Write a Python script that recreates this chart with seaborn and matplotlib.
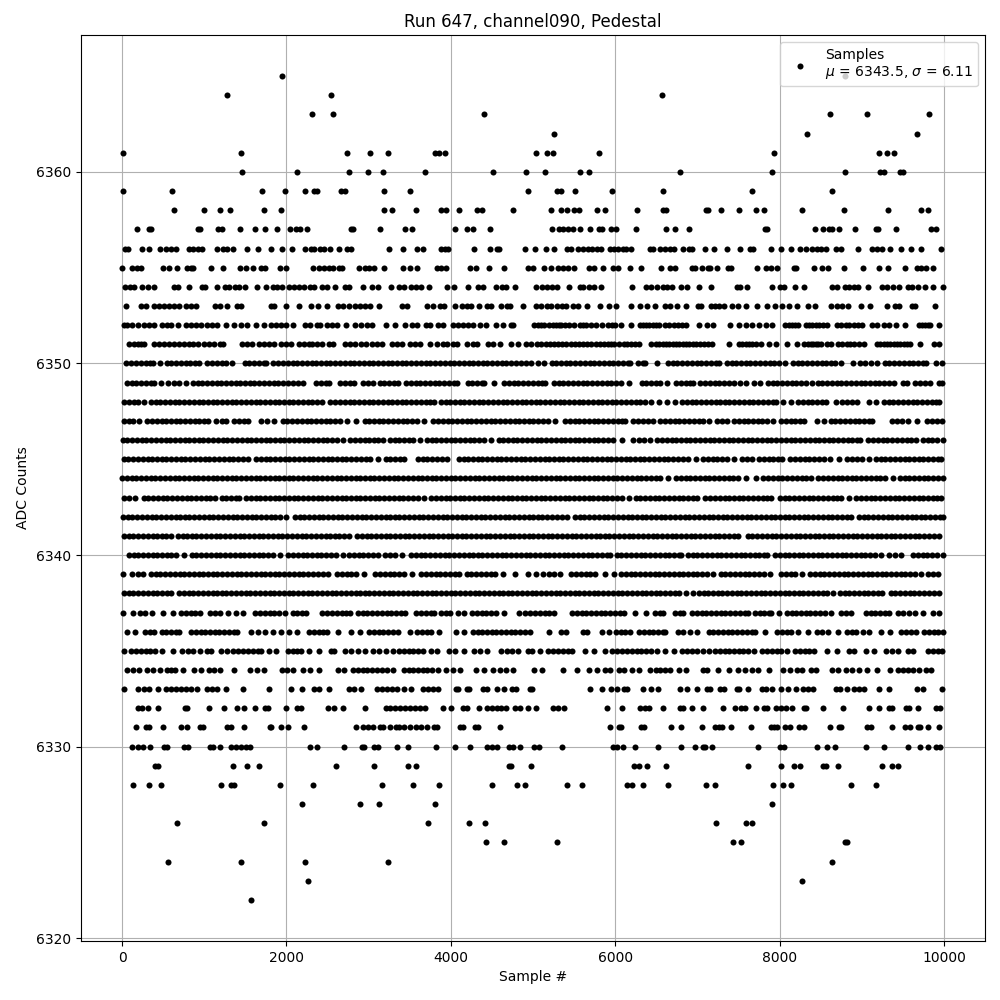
import matplotlib
matplotlib.use("Agg")
import matplotlib.pyplot as plt
import pandas as pd
import seaborn as sns

adc_6365 = [1944, 8790]
adc_6364 = [1277, 2539, 6566]
adc_6363 = [2308, 2563, 4407, 8616, 9065, 9817]
adc_6362 = [5256, 8337, 9671]
adc_6361 = [16, 1447, 2733, 3012, 3230, 3812, 3853, 3934, 5038, 5171, 5244, 5802, 7937, 9210, 9307, 9392]
adc_6360 = [1459, 2126, 2757, 2987, 3170, 3691, 4516, 4916, 5147, 5571, 5681, 6784, 7912, 8798, 9226, 9271, 9469, 9497]
adc_6359 = [16, 610, 1702, 1981, 2223, 2337, 2377, 2668, 2717, 3182, 3509, 4940, 5293, 5341, 5511, 5960, 6578, 7658, 8640]
adc_6358 = [634, 998, 1192, 1314, 1726, 1932, 3182, 3279, 3570, 3885, 3946, 4103, 4318, 4374, 4758, 5216, 5341, 5414, 5499, 5559, 5778, 5875, 6263, 6578, 6615, 7100, 7124, 7282, 7500, 7718, 7815, 8276, 8786, 9319, 9720, 9804]
adc_6357 = [186, 331, 351, 926, 950, 1168, 1221, 1435, 1617, 1742, 1884, 2041, 2114, 2163, 2248, 2781, 2810, 3133, 3448, 3533, 4055, 4200, 4273, 4479, 5232, 5317, 5365, 5426, 5487, 5567, 5689, 5798, 5838, 5948, 6012, 6251, 6615, 6724, 6894, 7819, 7844, 8434, 8531, 8600, 8640, 8725, 8919, 9174, 9198, 9416, 9841, 9902]
adc_6356 = [36, 68, 246, 331, 465, 537, 594, 655, 816, 865, 926, 974, 1156, 1229, 1277, 1350, 1520, 1653, 1811, 1948, 2066, 2223, 2296, 2333, 2405, 2454, 2527, 2636, 2733, 2781, 3242, 3412, 3594, 3659, 3885, 3934, 3970, 4285, 4479, 4564, 4588, 4904, 5022, 5163, 5256, 5414, 5462, 5547, 5608, 5669, 5721, 5778, 5830, 5935, 5984, 6032, 6093, 6133, 6190, 6420, 6457, 6542, 6602, 6671, 6712, 6821, 6894, 6934, 7088, 7197, 7354, 7524, 7641, 7682, 7900, 8021, 8143, 8252, 8325, 8398, 8458, 8507, 8567, 8689, 8749, 8955, 9125, 9186, 9247, 9344, 9481, 9598, 9720, 9962]
adc_6355 = [4, 125, 186, 234, 501, 574, 671, 792, 841, 865, 1083, 1229, 1435, 1508, 1597, 1690, 1738, 1920, 1993, 2320, 2393, 2454, 2515, 2563, 2636, 2672, 2878, 2951, 2999, 3060, 3182, 3412, 3509, 3594, 3837, 3885, 3946, 4237, 4309, 4467, 4649, 4940, 5001, 5135, 5224, 5305, 5365, 5426, 5499, 5681, 5741, 5850, 5972, 6032, 6178, 6311, 6554, 6663, 6724, 6930, 6970, 7051, 7124, 7152, 7233, 7367, 7403, 7730, 7840, 7892, 7965, 8179, 8203, 8422, 8519, 8592, 8786, 9012, 9210, 9323, 9525, 9671, 9720, 9780, 9865]
adc_6354 = [36, 101, 149, 246, 311, 392, 626, 683, 812, 978, 1006, 1152, 1249, 1302, 1374, 1423, 1492, 1641, 1754, 1835, 1888, 1948, 2033, 2090, 2151, 2211, 2284, 2333, 2438, 2494, 2595, 2717, 2757, 2927, 3036, 3109, 3267, 3364, 3432, 3517, 3578, 3642, 3739, 3958, 4039, 4213, 4334, 4395, 4544, 4617, 4669, 4783, 5038, 5111, 5171, 5232, 5293, 5438, 5571, 5608, 5681, 5741, 5830, 6202, 6372, 6433, 6505, 6578, 6627, 6687, 6796, 6869, 7015, 7160, 7476, 7524, 7609, 7912, 8009, 8058, 8191, 8300, 8640, 8701, 8798, 8846, 8907, 8955, 9081, 9247, 9307, 9380, 9453, 9562, 9610, 9683, 9772, 9865, 9986]
adc_6353 = [52, 230, 291, 392, 453, 513, 574, 634, 695, 776, 837, 897, 1128, 1192, 1277, 1395, 1443, 1807, 1847, 1989, 2151, 2296, 2381, 2498, 2624, 2688, 2757, 2838, 2891, 2959, 3020, 3121, 3400, 3465, 3707, 3788, 3869, 3918, 4055, 4132, 4192, 4241, 4346, 4435, 4483, 4613, 4686, 4718, 4880, 5038, 5102, 5171, 5224, 5293, 5353, 5406, 5487, 5547, 5656, 5814, 5923, 6008, 6190, 6299, 6384, 6481, 6602, 6663, 6748, 6857, 7003, 7043, 7164, 7217, 7265, 7326, 7415, 7488, 7585, 7730, 7852, 7941, 8034, 8114, 8216, 8349, 8434, 8628, 8701, 8762, 8830, 8992, 9101, 9307, 9400, 9457, 9610, 9642, 9889]
adc_6352 = [20, 60, 125, 190, 271, 331, 392, 481, 541, 594, 675, 780, 837, 897, 958, 1039, 1099, 1160, 1261, 1362, 1451, 1516, 1629, 1726, 1807, 1868, 1928, 1993, 2082, 2223, 2284, 2373, 2413, 2494, 2555, 2616, 2729, 2838, 2911, 2979, 3040, 3214, 3315, 3448, 3525, 3586, 3695, 3748, 3849, 3909, 4030, 4091, 4152, 4213, 4273, 4354, 4427, 4544, 4637, 4726, 4758, 5014, 5062, 5100, 5131, 5191, 5240, 5284, 5315, 5345, 5390, 5438, 5500, 5567, 5605, 5648, 5710, 5770, 5840, 5915, 5955, 5996, 6073, 6190, 6303, 6340, 6376, 6415, 6457, 6500, 6538, 6600, 6659, 6710, 6760, 6810, 6861, 7023, 7112, 7185, 7391, 7508, 7589, 7670, 7751, 7840, 7912, 8066, 8110, 8155, 8190, 8228, 8325, 8360, 8398, 8438, 8478, 8530, 8579, 8701, 8750, 8802, 8850, 8903, 8950, 9004, 9125, 9186, 9267, 9328, 9416, 9529, 9699, 9735, 9772, 9800, 9833, 9934]
adc_6351 = [89, 149, 198, 235, 271, 392, 453, 513, 574, 634, 695, 756, 816, 857, 926, 998, 1059, 1120, 1192, 1233, 1463, 1524, 1585, 1665, 1726, 1787, 1847, 1928, 1989, 2050, 2151, 2211, 2272, 2312, 2373, 2434, 2515, 2563, 2717, 2777, 2838, 2907, 2971, 3040, 3101, 3161, 3283, 3343, 3404, 3497, 3566, 3626, 3748, 3829, 3909, 3950, 4031, 4079, 4192, 4265, 4314, 4455, 4516, 4597, 4730, 4819, 4920, 4981, 5050, 5102, 5153, 5204, 5255, 5305, 5355, 5406, 5456, 5507, 5557, 5608, 5658, 5709, 5760, 5810, 5860, 5911, 5945, 5980, 6050, 6101, 6148, 6194, 6240, 6287, 6437, 6490, 6538, 6580, 6619, 6660, 6700, 6740, 6780, 6820, 6861, 6900, 6942, 6985, 7031, 7078, 7124, 7177, 7379, 7500, 7545, 7589, 7630, 7670, 7718, 7779, 7872, 7957, 8086, 8216, 8296, 8340, 8377, 8408, 8438, 8468, 8499, 8579, 8620, 8709, 8765, 8822, 8860, 8903, 8965, 9024, 9186, 9227, 9267, 9308, 9348, 9390, 9429, 9470, 9509, 9550, 9590, 9711, 9873, 9934]
adc_6350 = [52, 110, 170, 225, 285, 340, 380, 465, 545, 600, 660, 715, 775, 830, 890, 934, 1038, 1095, 1150, 1210, 1270, 1342, 1491, 1550, 1610, 1665, 1725, 1755, 1840, 1900, 1960, 2015, 2075, 2130, 2190, 2250, 2305, 2365, 2420, 2480, 2535, 2595, 2650, 2710, 2770, 2825, 2885, 2940, 3000, 3055, 3115, 3175, 3230, 3290, 3345, 3405, 3460, 3520, 3580, 3635, 3695, 3750, 3810, 3865, 3925, 3985, 4040, 4100, 4155, 4215, 4270, 4330, 4390, 4445, 4505, 4560, 4620, 4675, 4735, 4795, 4850, 4910, 4970, 5066, 5130, 5227, 5285, 5340, 5400, 5455, 5515, 5570, 5630, 5690, 5745, 5805, 5860, 5920, 5975, 6035, 6095, 6150, 6182, 6280, 6340, 6364, 6505, 6642, 6700, 6755, 6815, 6870, 6930, 6990, 7045, 7105, 7160, 7220, 7266, 7358, 7415, 7475, 7530, 7590, 7645, 7705, 7765, 7820, 7880, 7935, 7995, 8062, 8160, 8220, 8275, 8335, 8390, 8450, 8510, 8565, 8625, 8680, 8750, 8891, 8975, 9040, 9113, 9186, 9279, 9335, 9395, 9450, 9510, 9570, 9625, 9685, 9740, 9781, 9897, 9975]
adc_6349 = [60, 118, 175, 235, 290, 350, 392, 473, 554, 634, 695, 772, 861, 920, 975, 1035, 1090, 1150, 1205, 1265, 1325, 1380, 1440, 1495, 1555, 1610, 1670, 1730, 1785, 1845, 1900, 1960, 2015, 2075, 2135, 2199, 2365, 2420, 2480, 2523, 2656, 2715, 2775, 2818, 2931, 2990, 3048, 3133, 3190, 3250, 3305, 3359, 3456, 3515, 3570, 3630, 3690, 3745, 3805, 3860, 3920, 3975, 4035, 4079, 4204, 4260, 4320, 4375, 4403, 4528, 4649, 4705, 4765, 4820, 4880, 4940, 5000, 5055, 5115, 5151, 5256, 5315, 5370, 5430, 5490, 5545, 5605, 5660, 5720, 5775, 5835, 5895, 5950, 6010, 6069, 6166, 6320, 6380, 6435, 6495, 6550, 6635, 6740, 6800, 6860, 6915, 6950, 7035, 7095, 7150, 7210, 7265, 7325, 7385, 7440, 7516, 7597, 7694, 7759, 7856, 7915, 7970, 8030, 8090, 8145, 8205, 8260, 8317, 8389, 8462, 8520, 8580, 8635, 8695, 8750, 8810, 8870, 8925, 8985, 9040, 9100, 9160, 9215, 9275, 9330, 9396, 9501, 9546, 9651, 9710, 9770, 9829, 9934, 9974]
adc_6348 = [28, 85, 145, 198, 271, 351, 410, 465, 525, 580, 640, 695, 755, 815, 870, 930, 985, 1045, 1100, 1160, 1220, 1275, 1335, 1390, 1450, 1505, 1565, 1625, 1680, 1740, 1795, 1855, 1910, 1970, 2030, 2085, 2145, 2200, 2260, 2315, 2375, 2438, 2535, 2595, 2650, 2710, 2770, 2825, 2885, 2940, 3000, 3055, 3115, 3175, 3230, 3290, 3345, 3405, 3460, 3520, 3580, 3635, 3695, 3750, 3796, 3877, 3935, 3990, 4050, 4110, 4165, 4225, 4280, 4340, 4395, 4455, 4515, 4570, 4630, 4685, 4745, 4800, 4860, 4920, 4975, 5035, 5090, 5150, 5205, 5265, 5325, 5380, 5440, 5495, 5555, 5610, 5670, 5730, 5785, 5845, 5900, 5960, 6015, 6075, 6135, 6190, 6250, 6305, 6365, 6433, 6538, 6631, 6728, 6813, 6870, 6930, 6985, 7045, 7105, 7160, 7220, 7275, 7335, 7390, 7450, 7510, 7565, 7625, 7680, 7740, 7795, 7855, 7915, 7961, 8046, 8143, 8228, 8285, 8345, 8400, 8460, 8520, 8567, 8681, 8761, 8820, 8880, 8939, 9093, 9174, 9271, 9330, 9385, 9445, 9500, 9560, 9620, 9675, 9735, 9790, 9850, 9905, 9934]
adc_6347 = [20, 80, 135, 206, 303, 360, 420, 480, 535, 595, 650, 710, 770, 825, 885, 940, 1000, 1047, 1144, 1210, 1269, 1362, 1420, 1480, 1532, 1686, 1765, 1847, 1953, 2010, 2070, 2125, 2185, 2245, 2300, 2360, 2415, 2475, 2530, 2590, 2650, 2733, 2842, 2951, 3010, 3065, 3125, 3180, 3240, 3300, 3355, 3415, 3470, 3530, 3590, 3675, 3788, 3845, 3905, 3960, 4020, 4080, 4135, 4195, 4250, 4310, 4370, 4425, 4485, 4540, 4600, 4655, 4715, 4775, 4830, 4890, 4945, 5005, 5065, 5120, 5180, 5272, 5390, 5450, 5505, 5565, 5620, 5680, 5740, 5795, 5855, 5910, 5970, 6030, 6085, 6121, 6218, 6280, 6340, 6400, 6457, 6550, 6610, 6665, 6725, 6780, 6840, 6900, 6955, 7015, 7070, 7144, 7237, 7300, 7362, 7447, 7505, 7565, 7620, 7680, 7735, 7791, 7852, 7925, 8017, 8075, 8135, 8190, 8250, 8296, 8450, 8539, 8624, 8680, 8740, 8800, 8855, 8915, 8970, 9030, 9085, 9125, 9368, 9430, 9490, 9558, 9667, 9796, 9855, 9915, 9974]
adc_6346 = [8, 65, 125, 180, 240, 295, 355, 415, 470, 530, 585, 645, 700, 760, 820, 875, 935, 990, 1050, 1110, 1165, 1225, 1280, 1340, 1395, 1455, 1515, 1570, 1630, 1685, 1745, 1800, 1860, 1920, 1975, 2035, 2090, 2150, 2210, 2265, 2325, 2380, 2440, 2495, 2555, 2615, 2684, 2777, 2835, 2890, 2950, 3010, 3065, 3109, 3174, 3254, 3315, 3370, 3430, 3490, 3545, 3626, 3707, 3765, 3825, 3880, 3940, 4000, 4055, 4115, 4170, 4230, 4285, 4345, 4405, 4483, 4580, 4640, 4695, 4755, 4810, 4870, 4930, 4985, 5045, 5100, 5160, 5215, 5275, 5335, 5390, 5450, 5505, 5565, 5625, 5680, 5740, 5795, 5855, 5915, 5972, 6077, 6218, 6290, 6344, 6420, 6509, 6570, 6625, 6685, 6740, 6800, 6860, 6915, 6975, 7030, 7090, 7150, 7205, 7265, 7320, 7380, 7435, 7495, 7555, 7610, 7670, 7725, 7785, 7845, 7900, 7960, 8015, 8075, 8135, 8190, 8250, 8305, 8365, 8425, 8480, 8540, 8595, 8655, 8710, 8770, 8830, 8885, 8945, 8984, 9077, 9135, 9195, 9255, 9310, 9370, 9425, 9485, 9545, 9600, 9659, 9744, 9805, 9860, 9920, 9982]
adc_6345 = [20, 75, 135, 195, 250, 310, 365, 425, 480, 540, 600, 655, 715, 770, 830, 890, 945, 1005, 1060, 1120, 1180, 1235, 1295, 1350, 1410, 1470, 1532, 1629, 1690, 1745, 1805, 1860, 1920, 1980, 2035, 2095, 2150, 2210, 2270, 2325, 2385, 2440, 2500, 2555, 2615, 2675, 2730, 2790, 2845, 2905, 2965, 3020, 3109, 3206, 3265, 3325, 3380, 3424, 3598, 3660, 3715, 3775, 3835, 3890, 3958, 4095, 4155, 4210, 4270, 4325, 4385, 4445, 4500, 4560, 4615, 4675, 4735, 4790, 4850, 4905, 4965, 5025, 5080, 5140, 5195, 5255, 5315, 5370, 5430, 5485, 5545, 5605, 5660, 5720, 5775, 5835, 5895, 5950, 6010, 6065, 6125, 6185, 6240, 6300, 6355, 6415, 6475, 6530, 6590, 6645, 6705, 6765, 6820, 6880, 6978, 7067, 7125, 7185, 7240, 7300, 7360, 7443, 7540, 7600, 7670, 7751, 7810, 7870, 7925, 7985, 8034, 8127, 8185, 8245, 8305, 8360, 8420, 8480, 8535, 8616, 8717, 8826, 8885, 8945, 9000, 9093, 9170, 9230, 9285, 9345, 9405, 9460, 9520, 9575, 9635, 9695, 9750, 9810, 9865, 9925, 9962]
adc_6344 = [0, 60, 115, 175, 230, 290, 350, 405, 465, 520, 580, 640, 695, 755, 810, 870, 925, 985, 1045, 1100, 1160, 1215, 1275, 1335, 1390, 1450, 1505, 1565, 1625, 1680, 1740, 1795, 1855, 1915, 1970, 2030, 2085, 2145, 2200, 2260, 2320, 2375, 2435, 2490, 2550, 2610, 2665, 2725, 2780, 2840, 2900, 2955, 3015, 3070, 3130, 3190, 3245, 3305, 3360, 3420, 3475, 3535, 3595, 3650, 3710, 3765, 3825, 3885, 3940, 4000, 4055, 4115, 4175, 4230, 4290, 4345, 4405, 4465, 4520, 4580, 4635, 4695, 4750, 4810, 4870, 4925, 4985, 5040, 5100, 5160, 5215, 5275, 5330, 5390, 5450, 5505, 5565, 5620, 5680, 5740, 5795, 5855, 5910, 5970, 6025, 6085, 6145, 6200, 6260, 6315, 6375, 6435, 6490, 6550, 6647, 6740, 6800, 6855, 6915, 6975, 7030, 7090, 7145, 7205, 7265, 7320, 7380, 7435, 7495, 7597, 7710, 7803, 7860, 7920, 7980, 8035, 8095, 8150, 8210, 8270, 8325, 8385, 8470, 8530, 8590, 8645, 8705, 8760, 8820, 8880, 8935, 8995, 9050, 9110, 9170, 9225, 9285, 9376, 9461, 9520, 9580, 9635, 9695, 9755, 9810, 9870, 9925, 9982]
adc_6343 = [20, 80, 157, 263, 320, 380, 435, 495, 550, 610, 670, 725, 785, 840, 900, 960, 1015, 1075, 1128, 1213, 1270, 1330, 1385, 1419, 1508, 1565, 1625, 1680, 1740, 1800, 1855, 1915, 1970, 2030, 2090, 2145, 2205, 2260, 2320, 2380, 2435, 2495, 2550, 2610, 2670, 2725, 2785, 2840, 2900, 2960, 3015, 3075, 3130, 3190, 3250, 3305, 3365, 3420, 3480, 3540, 3595, 3675, 3760, 3820, 3875, 3935, 3990, 4050, 4110, 4165, 4225, 4280, 4340, 4400, 4455, 4515, 4570, 4630, 4690, 4745, 4805, 4860, 4920, 4980, 5035, 5095, 5150, 5210, 5270, 5325, 5385, 5440, 5500, 5560, 5615, 5675, 5730, 5790, 5850, 5905, 5965, 6020, 6080, 6162, 6247, 6305, 6365, 6420, 6480, 6535, 6595, 6655, 6710, 6770, 6825, 6885, 6945, 7000, 7096, 7155, 7215, 7270, 7330, 7385, 7445, 7505, 7560, 7620, 7680, 7735, 7795, 7850, 7900, 8005, 8065, 8120, 8180, 8235, 8295, 8355, 8410, 8470, 8525, 8585, 8645, 8700, 8749, 8846, 8935, 8995, 9050, 9110, 9165, 9225, 9285, 9340, 9400, 9455, 9515, 9575, 9630, 9690, 9745, 9805, 9865, 9920, 9962]
adc_6342 = [12, 70, 125, 185, 240, 300, 360, 415, 475, 530, 590, 650, 705, 765, 820, 880, 940, 995, 1055, 1110, 1170, 1230, 1285, 1345, 1400, 1460, 1520, 1575, 1635, 1690, 1750, 1810, 1865, 1925, 1997, 2102, 2160, 2215, 2275, 2335, 2390, 2450, 2505, 2565, 2625, 2680, 2740, 2795, 2855, 2915, 2970, 3030, 3085, 3145, 3205, 3260, 3320, 3375, 3435, 3495, 3550, 3610, 3665, 3725, 3785, 3840, 3900, 3955, 4015, 4075, 4130, 4190, 4245, 4305, 4365, 4420, 4480, 4535, 4595, 4655, 4710, 4770, 4825, 4885, 4945, 5000, 5060, 5115, 5175, 5235, 5290, 5350, 5414, 5511, 5570, 5625, 5685, 5740, 5800, 5860, 5915, 5975, 6030, 6090, 6150, 6205, 6265, 6320, 6380, 6440, 6495, 6555, 6610, 6670, 6730, 6785, 6845, 6900, 6960, 7020, 7075, 7135, 7190, 7250, 7310, 7365, 7425, 7480, 7540, 7600, 7655, 7715, 7770, 7830, 7890, 7945, 8005, 8060, 8120, 8180, 8235, 8295, 8350, 8410, 8470, 8525, 8585, 8640, 8700, 8760, 8815, 8871, 8964, 9025, 9080, 9140, 9195, 9255, 9315, 9370, 9430, 9485, 9545, 9605, 9660, 9720, 9775, 9835, 9895, 9950, 9982]
adc_6341 = [20, 80, 135, 195, 250, 310, 370, 425, 485, 540, 594, 675, 735, 790, 850, 905, 965, 1025, 1080, 1140, 1195, 1255, 1315, 1370, 1430, 1485, 1545, 1605, 1660, 1720, 1775, 1835, 1895, 1950, 2010, 2065, 2125, 2185, 2240, 2300, 2355, 2415, 2475, 2530, 2590, 2645, 2705, 2765, 2858, 2915, 2975, 3030, 3090, 3150, 3205, 3265, 3320, 3380, 3440, 3495, 3555, 3610, 3670, 3730, 3785, 3845, 3900, 3960, 4020, 4075, 4135, 4190, 4250, 4310, 4365, 4425, 4480, 4540, 4600, 4655, 4715, 4770, 4830, 4890, 4945, 5005, 5060, 5120, 5180, 5235, 5295, 5350, 5410, 5470, 5525, 5585, 5640, 5700, 5760, 5815, 5875, 5930, 5990, 6050, 6105, 6165, 6220, 6280, 6340, 6395, 6455, 6510, 6570, 6630, 6685, 6745, 6800, 6860, 6920, 6975, 7035, 7090, 7150, 7210, 7265, 7325, 7380, 7440, 7496, 7613, 7670, 7730, 7785, 7845, 7905, 7960, 8020, 8075, 8135, 8195, 8250, 8310, 8365, 8425, 8485, 8540, 8600, 8655, 8715, 8775, 8830, 8890, 8945, 9005, 9065, 9120, 9180, 9235, 9295, 9355, 9410, 9470, 9525, 9585, 9645, 9700, 9760, 9815, 9875, 9934]
adc_6340 = [81, 140, 195, 255, 310, 370, 430, 485, 545, 600, 651, 756, 849, 905, 965, 1020, 1080, 1140, 1195, 1255, 1310, 1370, 1430, 1485, 1545, 1600, 1660, 1720, 1775, 1835, 1916, 2021, 2080, 2135, 2195, 2250, 2310, 2370, 2425, 2485, 2540, 2600, 2684, 2761, 2820, 2880, 2935, 2995, 3050, 3109, 3202, 3260, 3320, 3400, 3517, 3575, 3635, 3690, 3750, 3805, 3865, 3925, 3980, 4040, 4095, 4155, 4215, 4270, 4330, 4385, 4445, 4505, 4560, 4620, 4675, 4735, 4795, 4850, 4910, 4965, 5025, 5085, 5140, 5200, 5255, 5315, 5375, 5430, 5490, 5545, 5605, 5665, 5720, 5780, 5835, 5895, 5939, 6016, 6075, 6135, 6190, 6250, 6310, 6365, 6425, 6480, 6540, 6600, 6655, 6715, 6770, 6796, 6885, 6945, 7000, 7060, 7115, 7175, 7235, 7290, 7350, 7405, 7465, 7525, 7580, 7640, 7695, 7755, 7815, 7848, 7941, 8000, 8060, 8115, 8175, 8230, 8290, 8350, 8405, 8465, 8520, 8580, 8640, 8695, 8755, 8810, 8870, 8930, 8985, 9045, 9100, 9160, 9235, 9328, 9408, 9477, 9623, 9680, 9740, 9795, 9855, 9910, 9982]
adc_6339 = [16, 121, 190, 259, 351, 410, 465, 525, 580, 640, 700, 755, 815, 870, 930, 990, 1045, 1105, 1160, 1220, 1280, 1335, 1395, 1450, 1510, 1570, 1625, 1685, 1740, 1800, 1860, 1915, 1975, 2030, 2090, 2150, 2205, 2265, 2320, 2380, 2440, 2510, 2616, 2675, 2735, 2790, 2850, 2939, 3080, 3140, 3195, 3255, 3310, 3370, 3430, 3533, 3638, 3700, 3755, 3815, 3870, 3930, 3990, 4045, 4099, 4192, 4250, 4310, 4365, 4425, 4485, 4540, 4637, 4779, 4940, 5030, 5127, 5190, 5250, 5333, 5458, 5520, 5580, 5640, 5695, 5757, 5875, 5980, 6073, 6130, 6190, 6245, 6305, 6365, 6420, 6480, 6535, 6595, 6655, 6710, 6770, 6825, 6885, 6945, 7000, 7060, 7115, 7185, 7282, 7340, 7400, 7455, 7515, 7575, 7630, 7690, 7745, 7805, 7880, 8017, 8075, 8135, 8190, 8276, 8369, 8430, 8490, 8545, 8605, 8660, 8720, 8780, 8835, 8895, 8950, 9010, 9070, 9125, 9185, 9240, 9300, 9360, 9415, 9475, 9530, 9590, 9650, 9720, 9804, 9865, 9922]
adc_6338 = [20, 80, 135, 195, 255, 310, 370, 425, 485, 545, 594, 691, 750, 810, 865, 925, 980, 1040, 1100, 1155, 1215, 1270, 1330, 1390, 1445, 1505, 1560, 1620, 1680, 1735, 1795, 1850, 1910, 1970, 2025, 2085, 2140, 2200, 2260, 2315, 2375, 2430, 2490, 2550, 2605, 2665, 2720, 2780, 2840, 2895, 2955, 3010, 3070, 3130, 3185, 3245, 3300, 3360, 3420, 3475, 3535, 3590, 3650, 3710, 3765, 3825, 3880, 3940, 4000, 4055, 4115, 4170, 4230, 4290, 4345, 4405, 4460, 4520, 4580, 4635, 4695, 4750, 4810, 4870, 4925, 4985, 5040, 5100, 5160, 5215, 5275, 5330, 5390, 5450, 5505, 5565, 5620, 5680, 5740, 5795, 5855, 5910, 5970, 6030, 6085, 6145, 6200, 6260, 6320, 6375, 6435, 6490, 6550, 6610, 6665, 6725, 6780, 6861, 6942, 7015, 7075, 7130, 7190, 7245, 7305, 7365, 7420, 7480, 7535, 7595, 7655, 7710, 7770, 7825, 7885, 7945, 8000, 8060, 8115, 8175, 8235, 8290, 8350, 8405, 8465, 8525, 8580, 8648, 8733, 8790, 8850, 8905, 8965, 9025, 9080, 9140, 9195, 9247, 9352, 9410, 9470, 9525, 9585, 9640, 9700, 9760, 9815, 9875, 9934]
adc_6337 = [16, 129, 222, 279, 368, 493, 614, 715, 775, 835, 890, 946, 1071, 1130, 1188, 1289, 1390, 1475, 1617, 1680, 1735, 1795, 1850, 1910, 1977, 2074, 2130, 2185, 2240, 2438, 2495, 2555, 2610, 2670, 2730, 2777, 2870, 2930, 2985, 3045, 3100, 3160, 3220, 3275, 3335, 3390, 3440, 3578, 3640, 3700, 3755, 3796, 3881, 3940, 3986, 4083, 4160, 4257, 4315, 4375, 4430, 4490, 4552, 4649, 4831, 4900, 4960, 5020, 5080, 5140, 5200, 5260, 5470, 5530, 5590, 5650, 5705, 5765, 5825, 5880, 5940, 5995, 6055, 6101, 6243, 6380, 6481, 6540, 6586, 6724, 6785, 6829, 6934, 6995, 7050, 7110, 7165, 7225, 7285, 7340, 7400, 7455, 7515, 7575, 7617, 7702, 7760, 7815, 7875, 7900, 7989, 8086, 8145, 8200, 8260, 8320, 8375, 8435, 8490, 8550, 8628, 8745, 8805, 8871, 9048, 9110, 9165, 9225, 9285, 9336, 9441, 9500, 9578, 9651, 9744, 9865, 9942]
adc_6336 = [56, 161, 283, 340, 392, 485, 540, 600, 655, 695, 837, 895, 955, 1010, 1070, 1130, 1185, 1245, 1300, 1360, 1403, 1564, 1657, 1734, 1831, 1928, 2033, 2130, 2276, 2335, 2395, 2450, 2494, 2628, 2785, 2891, 3004, 3065, 3120, 3180, 3235, 3295, 3351, 3505, 3586, 3645, 3705, 3760, 3857, 4063, 4160, 4265, 4325, 4380, 4440, 4495, 4555, 4615, 4670, 4730, 4785, 4845, 4905, 4961, 5195, 5337, 5406, 5608, 5656, 5842, 5919, 6004, 6065, 6120, 6174, 6287, 6345, 6405, 6460, 6520, 6580, 6607, 6764, 6821, 6914, 6991, 7136, 7195, 7255, 7310, 7370, 7425, 7485, 7545, 7600, 7660, 7698, 7823, 7965, 8025, 8085, 8140, 8224, 8349, 8450, 8520, 8588, 8705, 8814, 8875, 8931, 9016, 9093, 9238, 9348, 9481, 9540, 9600, 9659, 9756, 9815, 9875, 9930, 9982]
adc_6335 = [28, 109, 170, 225, 285, 340, 400, 481, 622, 727, 800, 865, 950, 1031, 1087, 1200, 1281, 1354, 1415, 1475, 1535, 1590, 1650, 1694, 1791, 1876, 2013, 2075, 2130, 2171, 2276, 2393, 2547, 2583, 2717, 2790, 2866, 2959, 3052, 3130, 3210, 3291, 3368, 3430, 3490, 3545, 3605, 3660, 3756, 3829, 3982, 4047, 4164, 4285, 4360, 4443, 4609, 4680, 4745, 4815, 4940, 4993, 5082, 5187, 5245, 5305, 5365, 5420, 5474, 5636, 5741, 5875, 5964, 6025, 6085, 6140, 6200, 6260, 6315, 6375, 6435, 6505, 6602, 6712, 6813, 6875, 6935, 6995, 7063, 7136, 7209, 7270, 7330, 7385, 7445, 7505, 7560, 7620, 7686, 7791, 7850, 7910, 7965, 8021, 8094, 8187, 8245, 8305, 8360, 8414, 8571, 8693, 8842, 8911, 9056, 9154, 9299, 9370, 9437, 9562, 9618, 9804, 9865, 9925, 9974]
adc_6334 = [60, 130, 206, 303, 380, 465, 546, 600, 643, 736, 869, 966, 1063, 1120, 1196, 1366, 1556, 1640, 1722, 1940, 2010, 2078, 2203, 2284, 2393, 2628, 2704, 2810, 2870, 2930, 2985, 3045, 3105, 3160, 3220, 3291, 3424, 3485, 3540, 3600, 3660, 3715, 3775, 3845, 3942, 4025, 4111, 4301, 4406, 4508, 4597, 4677, 4758, 5014, 5115, 5365, 5535, 5681, 5778, 5875, 5931, 6044, 6101, 6202, 6287, 6428, 6490, 6550, 6610, 6667, 6772, 6861, 7063, 7120, 7245, 7379, 7492, 7577, 7670, 7738, 7872, 8046, 8123, 8208, 8276, 8377, 8438, 8640, 8713, 8802, 8880, 8972, 9065, 9186, 9348, 9441, 9505, 9565, 9625, 9699, 9780, 9845]
adc_6333 = [28, 198, 271, 331, 440, 533, 594, 655, 715, 776, 837, 909, 1039, 1099, 1160, 1265, 1471, 1787, 2054, 2187, 2341, 2393, 2515, 2757, 2818, 2907, 3101, 3161, 3222, 3283, 3343, 3424, 3521, 3667, 3727, 3788, 3849, 4059, 4091, 4192, 4225, 4395, 4435, 4564, 4649, 4750, 4787, 4961, 4993, 5693, 5838, 5952, 6020, 6101, 6142, 6340, 6433, 6518, 6784, 6869, 6991, 7112, 7152, 7274, 7326, 7476, 7508, 7613, 7783, 7840, 7912, 8021, 8106, 8203, 8288, 8349, 8410, 8689, 8733, 8822, 8903, 8972, 9028, 9210, 9328, 9671, 9740, 9974]
adc_6332 = [190, 238, 319, 440, 764, 788, 1059, 1245, 1399, 1484, 1617, 1738, 1779, 1997, 2122, 2171, 2502, 2575, 2684, 2951, 3206, 3263, 3323, 3384, 3444, 3505, 3566, 3626, 3687, 3909, 4006, 4152, 4200, 4346, 4435, 4496, 4556, 4609, 4669, 4779, 4847, 4940, 5038, 5244, 5305, 5377, 5899, 6081, 6303, 6364, 6408, 6578, 6788, 6821, 6930, 7071, 7306, 7460, 7536, 7581, 7710, 7811, 7852, 7953, 8021, 8074, 8155, 8296, 8325, 8527, 8774, 9089, 9210, 9328, 9368, 9538, 9570, 9683, 9902, 9954]
adc_6331 = [170, 291, 323, 501, 719, 784, 950, 982, 1281, 1322, 1484, 1795, 1815, 1932, 2017, 2211, 2842, 2927, 2996, 3052, 3141, 3174, 3254, 3335, 3368, 3436, 3509, 3570, 3642, 3715, 3800, 3836, 4111, 4144, 4293, 4326, 4601, 5935, 6044, 6073, 6315, 6344, 6675, 6796, 7051, 7217, 7257, 7298, 7403, 7646, 7892, 7933, 7973, 8070, 8131, 8240, 8296, 8616, 8721, 8745, 9065, 9117, 9368, 9525, 9590, 9679, 9711, 9804, 9938]
adc_6330 = [125, 198, 250, 339, 505, 541, 756, 796, 1067, 1112, 1192, 1326, 1382, 1443, 1504, 1560, 2284, 2369, 2696, 2919, 2947, 3068, 3109, 3339, 3473, 3824, 4055, 4237, 4435, 4496, 4556, 4710, 4758, 4843, 5014, 5074, 5353, 5972, 6020, 6093, 6239, 6518, 6796, 6966, 7063, 7096, 7173, 7743, 8001, 8058, 8458, 8579, 8677, 9053, 9271, 9562, 9708, 9804, 9902, 9954]
adc_6329 = [404, 432, 1350, 1520, 1665, 2599, 3060, 3473, 3570, 4706, 4730, 4981, 6226, 6287, 6384, 6615, 7621, 8021, 8179, 8252, 8531, 8567, 8713, 9247, 9368, 9437]
adc_6328 = [137, 331, 477, 1205, 1326, 1362, 1920, 2320, 3157, 3545, 3861, 4504, 4807, 4904, 5414, 5596, 6142, 6206, 6336, 6639, 7100, 7209, 7924, 8046, 8143, 8871, 9174]
adc_6327 = [2187, 2890, 3121, 3812, 7912]
adc_6326 = [671, 1726, 3727, 4225, 4419, 7221, 7585, 7658]
adc_6325 = [4431, 4649, 5293, 7427, 7536, 8790, 8826]
adc_6324 = [562, 1447, 2223, 3230, 8640]
adc_6323 = [2260, 8276]
adc_6322 = [1568]

rows = {
    6365: adc_6365, 6364: adc_6364, 6363: adc_6363, 6362: adc_6362, 6361: adc_6361,
    6360: adc_6360, 6359: adc_6359, 6358: adc_6358, 6357: adc_6357, 6356: adc_6356,
    6355: adc_6355, 6354: adc_6354, 6353: adc_6353, 6352: adc_6352, 6351: adc_6351,
    6350: adc_6350, 6349: adc_6349, 6348: adc_6348, 6347: adc_6347, 6346: adc_6346,
    6345: adc_6345, 6344: adc_6344, 6343: adc_6343, 6342: adc_6342, 6341: adc_6341,
    6340: adc_6340, 6339: adc_6339, 6338: adc_6338, 6337: adc_6337, 6336: adc_6336,
    6335: adc_6335, 6334: adc_6334, 6333: adc_6333, 6332: adc_6332, 6331: adc_6331,
    6330: adc_6330, 6329: adc_6329, 6328: adc_6328, 6327: adc_6327, 6326: adc_6326,
    6325: adc_6325, 6324: adc_6324, 6323: adc_6323, 6322: adc_6322,
}
df = pd.DataFrame(
    [(s, level) for level, samples in rows.items() for s in samples],
    columns=["sample", "adc"],
)

fig, ax = plt.subplots(figsize=(10, 10), dpi=100)
ax.grid(True)
ax.set_axisbelow(True)
sns.scatterplot(data=df, x="sample", y="adc", color="black", marker="o", s=19,
                linewidth=0, ax=ax, legend=False, zorder=3,
                label="Samples\n$\\mu$ = 6343.5, $\\sigma$ = 6.11")
ax.set_xlim(-500, 10499)
ax.set_ylim(6319.85, 6367.15)
ax.set_title("Run 647, channel090, Pedestal")
ax.set_xlabel("Sample #")
ax.set_ylabel("ADC Counts")
ax.legend(loc="upper right")
fig.subplots_adjust(left=0.081, right=0.985, top=0.965, bottom=0.059)
fig.savefig("out.png", dpi=100)
